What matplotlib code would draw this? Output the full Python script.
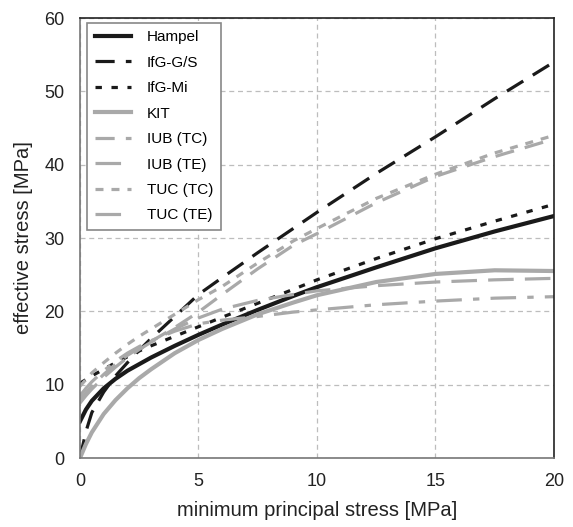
import matplotlib.pyplot as plt

plt.rcParams['font.family'] = ['Liberation Sans', 'DejaVu Sans']

# values
x_pts = [0, 0.25, 0.5, 1, 1.5, 2, 2.5, 3, 4, 5, 6, 7.5, 9, 10, 12.5, 15, 17.5, 20]

hampel = [5.0, 6.6, 7.8, 9.5, 10.8, 11.9, 12.8, 13.7, 15.3, 16.8, 18.2, 20.2, 22.1, 23.3, 26.0, 28.6, 30.9, 33.0]
ifg_gs = [0.0, 3.6, 6.2, 9.0, 11.2, 13.0, 14.7, 16.3, 19.3, 22.3, 24.6, 28.0, 31.3, 33.5, 38.8, 43.8, 49.0, 54.0]
ifg_mi = [10.2, 10.7, 11.2, 12.1, 13.0, 13.8, 14.6, 15.3, 16.6, 17.9, 19.2, 21.1, 23.0, 24.3, 27.2, 29.9, 32.3, 34.6]
kit = [0.0, 1.9, 3.5, 6.0, 7.9, 9.5, 10.9, 12.1, 14.3, 16.1, 17.6, 19.6, 21.2, 22.2, 24.0, 25.1, 25.6, 25.5]
iub_tc = [8.0, 8.9, 9.8, 11.4, 12.8, 14.0, 15.0, 15.9, 17.8, 19.9, 22.3, 25.8, 29.0, 30.6, 34.8, 38.4, 41.1, 43.5]
iub_te = [7.5, 8.5, 9.4, 11.0, 12.4, 13.7, 14.8, 15.8, 17.6, 19.1, 20.3, 21.5, 22.3, 22.8, 23.5, 24.0, 24.3, 24.5]
tuc_tc = [9.8, 10.7, 11.6, 13.0, 14.3, 15.5, 16.6, 17.6, 19.6, 21.6, 23.4, 26.6, 29.6, 31.3, 35.4, 38.7, 41.6, 44.0]
tuc_te = [8.5, 9.5, 10.4, 11.9, 13.2, 14.3, 15.2, 16.0, 17.3, 18.3, 18.8, 19.3, 19.9, 20.2, 20.9, 21.4, 21.8, 22.0]

labels = ['Hampel', 'IfG-G/S', 'IfG-Mi', 'KIT', 'IUB (TC)', 'IUB (TE)', 'TUC (TC)', 'TUC (TE)']

black = '#1a1a1a'
gray = '#a9a9a9'

fig = plt.figure(figsize=(5.73, 5.27), dpi=100)
ax = fig.add_axes([0.1396, 0.1309, 0.8272, 0.8349])

ax.plot(x_pts, hampel, color=black, lw=3.0, label=labels[0])
ax.plot(x_pts, ifg_gs, color=black, lw=2.3, dashes=(6, 3.5), label=labels[1])
ax.plot(x_pts, ifg_mi, color=black, lw=2.3, dashes=(2, 3), label=labels[2])
ax.plot(x_pts, kit, color=gray, lw=3.0, label=labels[3])
ax.plot(x_pts, iub_tc, color=gray, lw=2.3, dashes=(6, 3.5), label=labels[4])
ax.plot(x_pts, iub_te, color=gray, lw=2.3, dashes=(8, 3.5), label=labels[5])
ax.plot(x_pts, tuc_tc, color=gray, lw=2.3, dashes=(2.5, 2.5), label=labels[6])
ax.plot(x_pts, tuc_te, color=gray, lw=2.3, dashes=(8, 3.5, 2, 3.5), label=labels[7])

ax.set_xlim(0, 20)
ax.set_ylim(0, 60)
ax.set_xticks([0, 5, 10, 15, 20])
ax.set_yticks([0, 10, 20, 30, 40, 50, 60])
ax.grid(True, color='#bdbdbd', linestyle=(0, (4, 3)), lw=0.9)
ax.set_axisbelow(True)
ax.tick_params(length=0, labelsize=13, pad=11, colors='#222222')
for side in ['left', 'bottom']:
    ax.spines[side].set_color('#777777')
for side in ['top', 'right']:
    ax.spines[side].set_color('#222222')
for sp in ax.spines.values():
    sp.set_linewidth(1.2)

ax.set_xlabel('minimum principal stress [MPa]', fontsize=14.5, color='#222222', labelpad=8)
ax.set_ylabel('effective stress [MPa]', fontsize=14.5, color='#222222', labelpad=8)

leg = ax.legend(loc='upper left', fontsize=11, handlelength=2.4, fancybox=False,
                edgecolor='#888888', framealpha=1, borderpad=0.5, labelspacing=0.75,
                handletextpad=1.0, borderaxespad=0.3, bbox_to_anchor=(0.005, 1.0))
leg.get_frame().set_linewidth(1.2)

fig.savefig('out.png', dpi=100)
